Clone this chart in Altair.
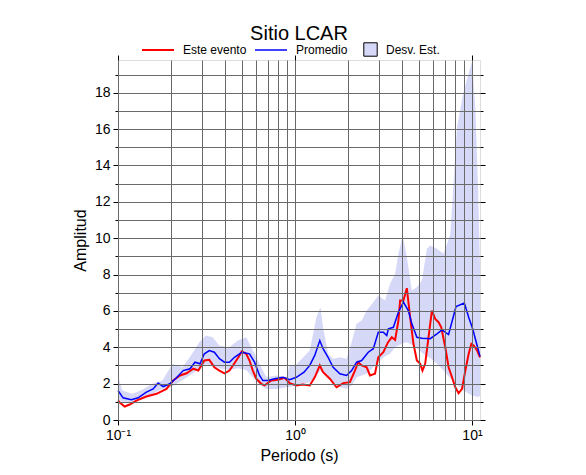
import altair as alt
import pandas as pd

# ---------------- data ----------------
red_period = [0.1, 0.1027, 0.1091, 0.1165, 0.127, 0.1447, 0.1649, 0.1879, 0.2051, 0.2239,
              0.244, 0.2663, 0.2843, 0.3075, 0.3282, 0.3503, 0.3741, 0.3993, 0.4263, 0.455,
              0.4858, 0.5005, 0.5302, 0.5534, 0.5778, 0.604, 0.6448, 0.6732, 0.7346, 0.801,
              0.874, 0.933, 1.018, 1.11, 1.212, 1.293, 1.381, 1.441, 1.573, 1.717,
              1.872, 2.043, 2.181, 2.277, 2.381, 2.541, 2.653, 2.831, 2.956, 3.156,
              3.356, 3.522, 3.678, 3.84, 3.926, 4.098, 4.284, 4.474, 4.67, 4.882,
              5.098, 5.253, 5.44, 5.68, 5.938, 6.2, 6.473, 6.705, 7.066, 7.376,
              7.711, 8.05, 8.405, 8.787, 9.174, 9.579, 9.92, 10.22, 10.69, 11.1]
red_amp = [1.07, 0.95, 0.74, 0.85, 1.07, 1.29, 1.44, 1.71, 2.17, 2.45,
           2.57, 2.82, 2.72, 3.27, 3.31, 2.9, 2.72, 2.57, 2.72, 3.12,
           3.55, 3.78, 3.64, 3.27, 2.72, 2.27, 1.99, 1.9, 2.17, 2.21,
           2.32, 2.03, 1.9, 1.95, 1.9, 2.35, 3.0, 2.63, 2.27, 1.8,
           2.03, 2.08, 2.72, 3.18, 3.0, 2.9, 2.45, 2.54, 3.45, 3.73,
           4.28, 4.55, 4.4, 5.47, 6.57, 6.57, 7.25, 5.65, 4.19, 3.27,
           3.09, 2.72, 3.09, 4.55, 6.02, 5.56, 5.38, 5.1, 4.0, 2.9,
           2.35, 1.8, 1.47, 1.71, 2.72, 3.64, 4.19, 4.1, 3.82, 3.45]

blue_period = [0.1, 0.1068, 0.119, 0.1299, 0.1447, 0.1579, 0.1686, 0.18, 0.1964, 0.2141,
               0.2337, 0.2551, 0.2723, 0.2906, 0.3075, 0.3282, 0.3503, 0.3741, 0.3993, 0.4263,
               0.455, 0.4858, 0.5005, 0.5534, 0.5907, 0.6306, 0.6584, 0.7028, 0.7671, 0.8551,
               0.933, 1.018, 1.125, 1.212, 1.293, 1.381, 1.441, 1.538, 1.643, 1.793,
               1.956, 2.089, 2.23, 2.381, 2.594, 2.77, 2.956, 3.156, 3.3, 3.37,
               3.596, 3.84, 4.098, 4.375, 4.574, 4.882, 5.212, 5.808, 6.339, 6.767,
               7.376, 8.125, 9.055, 9.579, 10.09, 10.69, 11.1]
blue_amp = [1.62, 1.22, 1.11, 1.22, 1.53, 1.71, 2.03, 1.84, 1.99, 2.32,
            2.72, 2.82, 3.18, 3.09, 3.64, 3.82, 3.73, 3.37, 3.18, 3.18,
            3.45, 3.64, 3.73, 3.64, 3.18, 2.45, 2.17, 2.17, 2.27, 2.35,
            2.21, 2.35, 2.63, 3.0, 3.55, 4.37, 3.92, 3.45, 2.9, 2.54,
            2.45, 2.72, 3.18, 3.27, 3.73, 3.92, 4.83, 4.83, 4.65, 5.02,
            5.1, 5.93, 6.48, 6.0, 5.29, 4.55, 4.5, 4.47, 4.74, 4.96,
            4.7, 6.24, 6.43, 5.65, 5.02, 4.1, 3.5]

band_period = [0.1, 0.1058, 0.1205, 0.1374, 0.1565, 0.1784, 0.2032, 0.2316, 0.2585, 0.288,
               0.3144, 0.3427, 0.3741, 0.4263, 0.4751, 0.5302, 0.5778, 0.6306, 0.6882, 0.7844,
               0.8939, 0.933, 1.018, 1.212, 1.322, 1.393, 1.441, 1.538, 1.643, 1.793,
               1.956, 2.089, 2.23, 2.381, 2.541, 2.77, 2.956, 3.228, 3.445, 3.678,
               3.84, 4.066, 4.284, 4.574, 4.882, 5.212, 5.563, 5.808, 6.339, 6.91,
               7.542, 8.231, 8.939, 10.01, 10.45, 10.83, 11.1]
band_up = [2.45, 1.62, 1.44, 1.66, 1.99, 2.17, 3.09, 2.9, 3.55, 4.28,
           4.65, 4.55, 4.1, 4.0, 4.37, 4.55, 3.82, 3.09, 2.35, 2.45,
           2.35, 3.0, 3.05, 3.82, 5.65, 6.2, 5.1, 3.64, 3.37, 3.45,
           3.37, 4.28, 5.29, 5.47, 6.02, 6.48, 6.85, 6.57, 7.49, 8.04,
           9.14, 10.15, 8.96, 7.12, 7.3, 7.67, 9.42, 9.6, 9.42, 9.14,
           10.2, 16.1, 18.0, 19.75, 17.1, 12.7, 8.5]
band_low = [1.17, 1.0, 0.98, 1.17, 1.45, 1.72, 1.85, 2.2, 2.5, 2.8,
            3.05, 3.0, 2.85, 2.75, 2.85, 2.75, 2.35, 1.95, 1.7, 1.7,
            1.8, 1.82, 1.9, 2.08, 2.45, 2.72, 2.6, 2.4, 2.1, 1.8,
            1.72, 1.9, 2.35, 2.45, 2.54, 2.9, 3.2, 3.5, 3.64, 4.0,
            4.1, 4.22, 4.28, 4.15, 3.95, 3.7, 3.5, 3.4, 3.1, 2.72,
            2.3, 1.95, 1.62, 1.35, 1.3, 1.25, 1.35]

series_names = ["Este evento", "Promedio"]
series_colors = ["#ff0000", "#0000ff"]
band_name = "Desv. Est."
band_color = "#d6d8f8"

grid_x = [0.1, 0.2, 0.3, 0.4, 0.5, 0.6, 0.7, 0.8, 0.9,
          1, 2, 3, 4, 5, 6, 7, 8, 9, 10]
major_x = [0.1, 1, 10]
y_ticks = list(range(0, 20))

# ---------------- tables ----------------
lines_df = pd.concat([
    pd.DataFrame({"period": red_period, "amp": red_amp, "serie": series_names[0]}),
    pd.DataFrame({"period": blue_period, "amp": blue_amp, "serie": series_names[1]}),
])
band_df = pd.DataFrame({"period": band_period, "low": band_low, "up": band_up,
                        "serie": band_name})

FONT = "Liberation Sans"
GRID = "#6a6a6a"

xs = alt.Scale(type="log", domain=[0.1, 11.1], nice=False)
ys = alt.Scale(domain=[0, 19.8], nice=False)

even_size = {"condition": {"test": "datum.value % 2 == 0", "value": 5}, "value": 3}
major_op = {"condition": {"test": "datum.value == 0.1 || datum.value == 1 || datum.value == 10",
                          "value": 1}, "value": 0}

band = alt.Chart(band_df).mark_area(opacity=1).encode(
    x=alt.X("period:Q", scale=xs,
            axis=alt.Axis(orient="bottom", values=major_x,
                          labelExpr="datum.value == 0.1 ? '10⁻¹' : (datum.value == 1 ? '10⁰' : '10¹')",
                          grid=False, domain=False, tickSize=5, tickColor="black",
                          labelFontSize=14, labelColor="black", labelPadding=3,
                          labelFlush=False, labelOverlap=False,
                          title="Periodo (s)", titleFontSize=16, titleFontWeight="normal",
                          titleColor="black", titlePadding=5)),
    y=alt.Y("low:Q", scale=ys,
            axis=alt.Axis(orient="left", values=y_ticks,
                          labelExpr="datum.value % 2 == 0 ? datum.label : ''",
                          grid=False, domain=False, tickSize=even_size, tickColor="black",
                          labelFontSize=14, labelColor="black", labelPadding=3,
                          labelFlush=False, labelOverlap=False,
                          title="Amplitud", titleFontSize=16, titleFontWeight="normal",
                          titleColor="black", titlePadding=6)),
    y2="up:Q",
    fill=alt.Fill("serie:N", scale=alt.Scale(domain=[band_name], range=[band_color]),
                  legend=alt.Legend(orient="none", legendX=245, legendY=-18,
                                    direction="horizontal", title=None, padding=0,
                                    symbolType="square", symbolSize=180,
                                    symbolStrokeColor="black", symbolStrokeWidth=1,
                                    labelFontSize=12, labelFont=FONT, labelColor="black",
                                    labelOffset=8)),
)

lines = alt.Chart(lines_df).mark_line().encode(
    x=alt.X("period:Q", scale=xs,
            axis=alt.Axis(orient="top", values=grid_x, grid=True, gridColor=GRID,
                          gridWidth=1, gridOpacity=1, labels=False, domain=False,
                          tickSize=5, tickColor="black", tickOpacity=major_op,
                          title=None, zindex=1)),
    y=alt.Y("amp:Q", scale=ys,
            axis=alt.Axis(orient="right", values=y_ticks, grid=True, gridColor=GRID,
                          gridWidth=1, gridOpacity=1, labels=False, domain=False,
                          tickSize=even_size, tickColor="black", title=None, zindex=1)),
    color=alt.Color("serie:N", scale=alt.Scale(domain=series_names, range=series_colors),
                    legend=alt.Legend(orient="none", legendX=23, legendY=-27,
                                      direction="horizontal", title=None, padding=0,
                                      symbolType="stroke", symbolSize=1024,
                                      symbolStrokeWidth=2, columnPadding=5,
                                      labelFontSize=12, labelFont=FONT, labelColor="black",
                                      labelOffset=8)),
    strokeWidth=alt.StrokeWidth("serie:N",
                                scale=alt.Scale(domain=series_names, range=[2, 1.5]),
                                legend=None),
)

chart = alt.layer(band, lines).resolve_axis(
    x="independent", y="independent"
).properties(
    width=362, height=360,
    autosize=alt.AutoSizeParams(type="none"),
    padding={"left": 110, "top": 52, "right": 90, "bottom": 47},
    title=alt.TitleParams("Sitio LCAR", fontSize=20, font=FONT, fontWeight="normal",
                          color="black", anchor="middle", offset=10, dy=21),
).configure_view(
    stroke="black", strokeWidth=2
).configure(
    font=FONT
)

chart.save("out.html", embed_options={"renderer": "svg", "actions": False})
